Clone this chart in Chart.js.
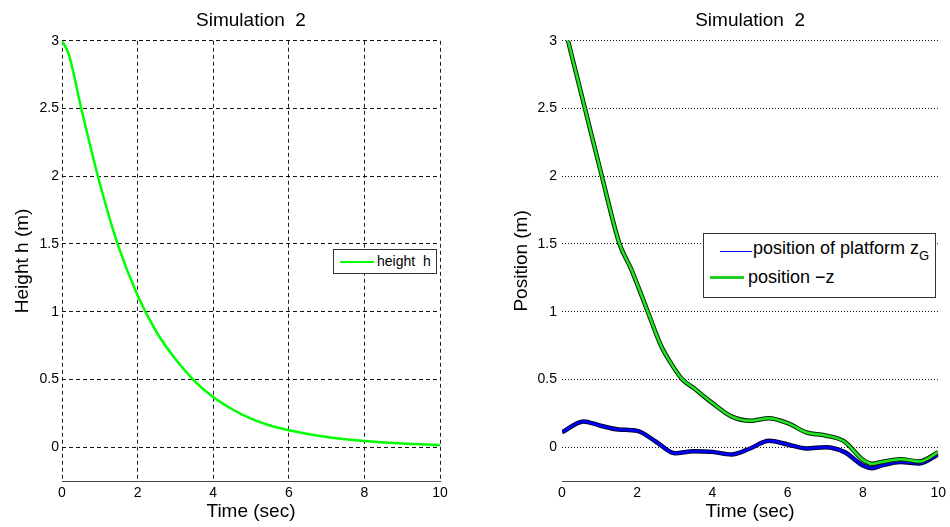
<!DOCTYPE html>
<html>
<head>
<meta charset="utf-8">
<script src="https://cdn.jsdelivr.net/npm/chart.js@4/dist/chart.umd.min.js"></script>
<style>
body{margin:0;background:#fff;width:950px;height:527px;overflow:hidden;position:relative;font-family:"Liberation Sans",Arial,sans-serif}
canvas{position:absolute;top:0}
#left{left:0}
#right{left:475px}
.legend{position:absolute;border:1px solid #333;background:#fff;box-sizing:border-box}
.legend .ln{position:absolute;height:0}
.legend .tx{position:absolute;white-space:pre;color:#000}
.legend sub{font-size:13px;vertical-align:-6px;line-height:0}
</style>
</head>
<body>
<canvas id="left" width="475" height="527"></canvas>
<canvas id="right" width="475" height="527"></canvas>

<div class="legend" style="left:333px;top:249px;width:104px;height:25px">
  <span class="ln" style="left:6px;top:11px;width:34px;border-top:2px solid #00ff00"></span>
  <span class="tx" style="left:43px;top:0;font-size:14px;line-height:23px">height  h</span>
</div>

<div class="legend" style="left:703px;top:233px;width:233px;height:65px">
  <span class="ln" style="left:16px;top:17px;width:32px;border-top:1px solid #0000ff"></span>
  <span class="tx" style="left:49px;top:1px;font-size:18px;line-height:26px">position of platform z<sub>G</sub></span>
  <span class="ln" style="left:6px;top:42px;width:34px;border-top:3px solid #22cc22"></span>
  <span class="tx" style="left:44px;top:30px;font-size:18px;line-height:26px">position −z</span>
</div>

<script>
// ticks
const xTicks = [0, 2, 4, 6, 8, 10];
const yTicks = [0, 0.5, 1, 1.5, 2, 2.5, 3];

// left plot: height h
const heightTime   = [0, 0.18, 0.51, 0.95, 1.47, 2, 2.5, 3, 3.5, 4, 4.5, 5, 5.5, 6, 7, 8, 9, 10];
const heightValues = [3, 2.9, 2.5, 2.0, 1.5, 1.12, 0.85, 0.65, 0.49, 0.37, 0.28, 0.21, 0.16, 0.125, 0.075, 0.045, 0.027, 0.015];

// right plot: platform z_G
const platformTime   = [0, 0.57, 1, 1.5, 2, 2.5, 3, 3.5, 4, 4.5, 5, 5.5, 6, 6.5, 7, 7.5, 8, 8.25, 8.5, 9, 9.5, 10];
const platformValues = [0.11, 0.19, 0.16, 0.13, 0.12, 0.04, -0.045, -0.03, -0.035, -0.055, -0.01, 0.047, 0.02, -0.01, 0, -0.035, -0.135, -0.155, -0.135, -0.11, -0.12, -0.055];

// right plot: position -z
const posTime   = [0, 0.16, 0.61, 1.06, 1.53, 1.83, 2.28, 2.63, 2.94, 3.2, 3.5, 4, 4.5, 5, 5.5, 6, 6.5, 7, 7.5, 8, 8.25, 8.5, 9, 9.5, 10];
const posValues = [3.17, 3.0, 2.5, 2.0, 1.5, 1.32, 1.0, 0.75, 0.6, 0.5, 0.436, 0.325, 0.227, 0.195, 0.214, 0.177, 0.108, 0.086, 0.042, -0.094, -0.123, -0.11, -0.089, -0.106, -0.037];

const FONT = '"Liberation Sans", Arial, sans-serif';

function pts(xs, ys) {
    return xs.map((x, i) => ({x: x, y: ys[i]}));
}

function xScale(gridOn) {
    return {
        type: 'linear', min: 0, max: 10,
        afterBuildTicks: s => { s.ticks = xTicks.map(v => ({value: v})); },
        afterFit: s => { s.height = 46; },
        ticks: {font: {family: FONT, size: 14}, color: '#000', padding: 4, maxRotation: 0, callback: v => String(v)},
        grid: {display: gridOn, color: '#222', lineWidth: 1, drawTicks: false},
        border: {display: true, color: '#444', width: 1, dash: [4, 3]},
        title: {display: true, text: 'Time (sec)', font: {family: FONT, size: 19}, color: '#000', padding: {top: 0, bottom: 4}}
    };
}

function yScale(width, label, titlePad, tickPad, dash) {
    return {
        type: 'linear', min: -0.25, max: 3,
        afterBuildTicks: s => { s.ticks = yTicks.map(v => ({value: v})); },
        afterFit: s => { s.width = width; },
        ticks: {font: {family: FONT, size: 14}, color: '#000', padding: tickPad, callback: v => String(v)},
        grid: {color: '#111', lineWidth: 1, drawTicks: false},
        border: {display: false, dash: dash},
        title: {display: true, text: label, font: {family: FONT, size: 19}, color: '#000', padding: {top: titlePad, bottom: 0}}
    };
}

function baseOptions(padRight) {
    return {
        responsive: false,
        animation: false,
        layout: {padding: {left: 0, right: padRight, top: 0, bottom: 0}},
        plugins: {
            legend: {display: false},
            tooltip: {enabled: false},
            title: {display: true, text: 'Simulation  2', fullSize: false, color: '#000',
                    font: {family: FONT, size: 19, weight: 'normal'}, padding: {top: 9, bottom: 9}}
        }
    };
}

let leftOpts = baseOptions(35);
leftOpts.scales = {x: xScale(true), y: yScale(62, 'Height h (m)', 11, 3, [4, 3])};
new Chart(document.getElementById('left'), {
    type: 'line',
    data: {
        datasets: [{
            data: pts(heightTime, heightValues),
            borderColor: '#00ff00', borderWidth: 2.5, pointRadius: 0,
            cubicInterpolationMode: 'monotone'
        }]
    },
    options: leftOpts
});

let rightOpts = baseOptions(10);
rightOpts.scales = {x: xScale(false), y: yScale(87, 'Position (m)', 35, 5, [1, 2])};
const smooth = {pointRadius: 0, cubicInterpolationMode: 'monotone'};
new Chart(document.getElementById('right'), {
    type: 'line',
    data: {
        datasets: [
            Object.assign({data: pts(platformTime, platformValues), borderColor: '#000033', borderWidth: 4.5, order: 3}, smooth),
            Object.assign({data: pts(platformTime, platformValues), borderColor: '#0000ff', borderWidth: 2.5, order: 2}, smooth),
            Object.assign({data: pts(posTime, posValues), borderColor: '#062806', borderWidth: 4.5, order: 1}, smooth),
            Object.assign({data: pts(posTime, posValues), borderColor: '#22e622', borderWidth: 2.5, order: 0}, smooth)
        ]
    },
    options: rightOpts
});
</script>
</body>
</html>
